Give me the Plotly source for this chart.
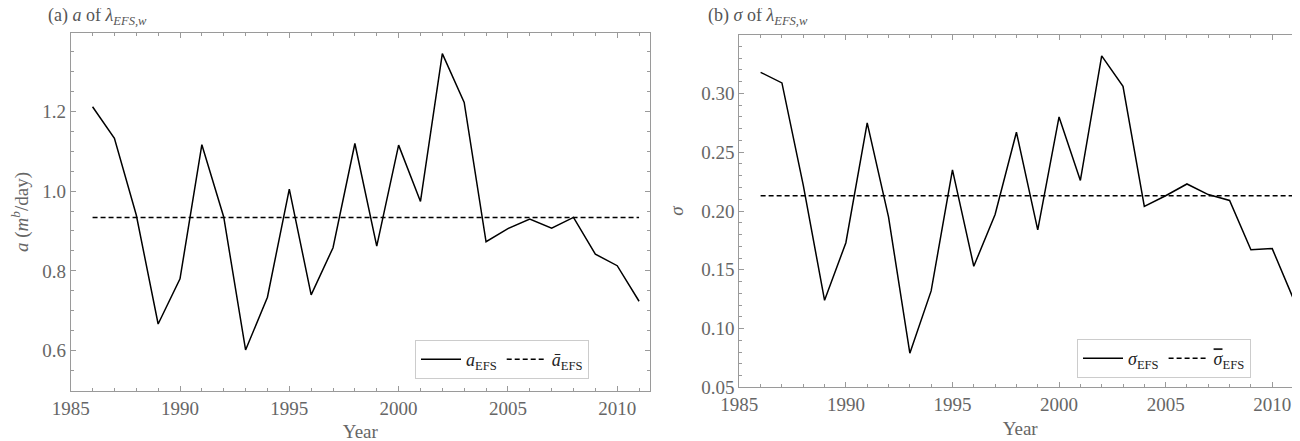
import plotly.graph_objects as go

# ---- data ----
years = list(range(1986, 2012))
a_values = [1.211, 1.132, 0.940, 0.667, 0.780, 1.116, 0.935, 0.602, 0.734, 1.005,
            0.740, 0.858, 1.119, 0.862, 1.115, 0.974, 1.344, 1.222, 0.873, 0.906,
            0.930, 0.907, 0.934, 0.842, 0.813, 0.724]
a_mean = 0.934
sigma_values = [0.318, 0.309, 0.222, 0.124, 0.173, 0.275, 0.195, 0.079, 0.132, 0.235,
                0.153, 0.197, 0.267, 0.184, 0.280, 0.226, 0.332, 0.306, 0.204, 0.213,
                0.223, 0.214, 0.209, 0.167, 0.168, 0.125]
sigma_mean = 0.213

a_tickvals = [0.6, 0.8, 1.0, 1.2]
a_ticktext = ["0.6", "0.8", "1.0", "1.2"]
sigma_tickvals = [0.05, 0.10, 0.15, 0.20, 0.25, 0.30]
sigma_ticktext = ["0.05", "0.10", "0.15", "0.20", "0.25", "0.30"]

W, H = 1300, 441
OFF = 8  # page body margin of the html page


def PX(x):
    return (x - OFF) / W


def PY(y):
    return 1 - (y - OFF) / H


FONT = "Liberation Serif"
GRAY_TXT = "#666666"
FRAME = "#9a9a9a"

fig = go.Figure()

# left panel
fig.add_trace(go.Scatter(x=years, y=a_values, mode="lines",
                         line=dict(color="black", width=1.5),
                         name="<i>a</i><sub>EFS</sub>", xaxis="x", yaxis="y",
                         legend="legend"))
fig.add_trace(go.Scatter(x=[years[0], years[-1]], y=[a_mean, a_mean], mode="lines",
                         line=dict(color="black", width=1.5, dash="5px,3px"),
                         name="<i>ā</i><sub>EFS</sub>", xaxis="x", yaxis="y",
                         legend="legend"))
# right panel
fig.add_trace(go.Scatter(x=years, y=sigma_values, mode="lines",
                         line=dict(color="black", width=1.5),
                         name="<i>σ</i><sub>EFS</sub>", xaxis="x2", yaxis="y2",
                         legend="legend2"))
fig.add_trace(go.Scatter(x=[years[0], 2011.5], y=[sigma_mean, sigma_mean], mode="lines",
                         line=dict(color="black", width=1.5, dash="5px,3px"),
                         name='<span style="text-decoration:overline"><i>σ</i></span><sub>EFS</sub>',
                         xaxis="x2", yaxis="y2", legend="legend2"))


def xaxis_common(domain, rng, anchor):
    return dict(domain=domain, range=rng, anchor=anchor,
                tickmode="linear", tick0=1985, dtick=5,
                ticks="inside", ticklen=5, tickcolor=FRAME, tickwidth=1,
                minor=dict(ticks="inside", dtick=1, tick0=1985, ticklen=3, tickcolor=FRAME),
                showline=True, linecolor=FRAME, linewidth=1, mirror="ticks",
                showgrid=False, zeroline=False, automargin=False,
                tickfont=dict(family=FONT, size=19, color=GRAY_TXT),
                title=dict(text="Year", font=dict(family=FONT, size=19, color=GRAY_TXT),
                           standoff=7))


def yaxis_common(domain, rng, anchor, tickvals, ticktext, minor_dtick, minor_t0, title):
    return dict(domain=domain, range=rng, anchor=anchor,
                tickvals=tickvals, ticktext=ticktext,
                ticks="inside", ticklen=5, tickcolor=FRAME,
                minor=dict(ticks="inside", dtick=minor_dtick, tick0=minor_t0,
                           ticklen=3, tickcolor=FRAME),
                showline=True, linecolor=FRAME, linewidth=1, mirror="ticks",
                showgrid=False, zeroline=False, automargin=False,
                tickfont=dict(family=FONT, size=19, color=GRAY_TXT),
                title=dict(text=title, font=dict(family=FONT, size=19, color=GRAY_TXT),
                           standoff=12))


fig.update_layout(
    width=W, height=H,
    margin=dict(l=0, r=0, t=0, b=0),
    paper_bgcolor="white", plot_bgcolor="white",
    font=dict(family=FONT, color=GRAY_TXT),
    xaxis=xaxis_common([PX(70.7), PX(650)], [1985, 2011.5], "y"),
    xaxis2=xaxis_common([PX(739.3), PX(1301)], [1985, 2011.35], "y2"),
    yaxis=yaxis_common([PY(390.7), PY(33.3)], [0.5, 1.395], "x", a_tickvals, a_ticktext,
                       0.05, 0.5, "<i>a</i> (<i>m</i><sup><i>b</i></sup>/day)"),
    yaxis2=yaxis_common([PY(387.3), PY(34.7)], [0.05, 0.35], "x2", sigma_tickvals,
                        sigma_ticktext, 0.01, 0.05, "<i>σ</i>"),
    legend=dict(x=PX(415), y=PY(340), xanchor="left", yanchor="top",
                orientation="h", bordercolor="#cccccc", borderwidth=1,
                bgcolor="white", itemwidth=40,
                font=dict(family=FONT, size=18, color="#222222")),
    legend2=dict(x=PX(1077), y=PY(339), xanchor="left", yanchor="top",
                 orientation="h", bordercolor="#cccccc", borderwidth=1,
                 bgcolor="white", itemwidth=40,
                 font=dict(family=FONT, size=18, color="#222222")),
    annotations=[
        dict(text="(a) <i>a</i> of <i>λ</i><sub><i>EFS,w</i></sub>",
             xref="paper", yref="paper", x=PX(46), y=PY(16.5),
             xanchor="left", yanchor="middle", showarrow=False,
             font=dict(family=FONT, size=18, color="#555555")),
        dict(text="(b) <i>σ</i> of <i>λ</i><sub><i>EFS,w</i></sub>",
             xref="paper", yref="paper", x=PX(706), y=PY(16.5),
             xanchor="left", yanchor="middle", showarrow=False,
             font=dict(family=FONT, size=18, color="#555555")),
    ],
)

fig.write_html("out.html")
